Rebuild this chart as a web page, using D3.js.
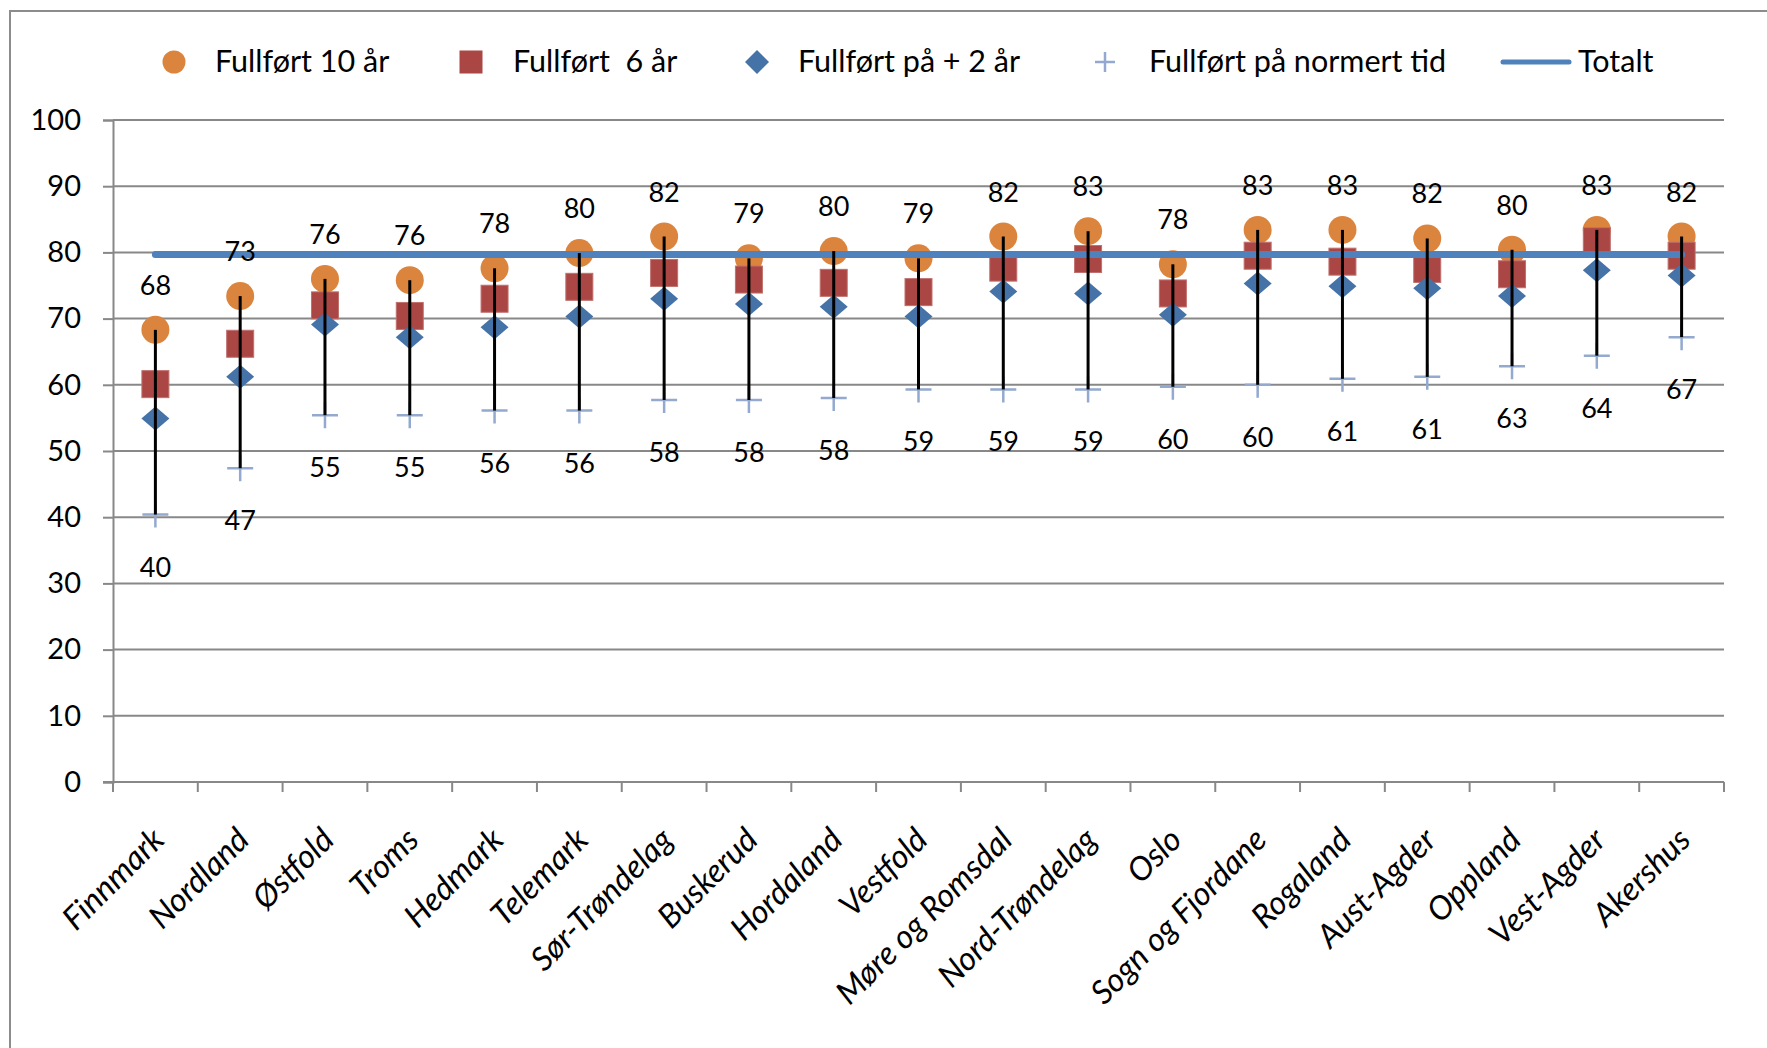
<!DOCTYPE html>
<html>
<head>
<meta charset="utf-8">
<script src="https://cdn.jsdelivr.net/npm/d3@7"></script>
<style>
  body { margin: 0; background: #fff; }
  text { font-family: Lato, "Open Sans", sans-serif; fill: #000; white-space: pre; }
</style>
</head>
<body>
<div id="chart"></div>
<script>
// Fylker, sortert etter andel fullført på normert tid
const fylker = ['Finnmark', 'Nordland', 'Østfold', 'Troms', 'Hedmark', 'Telemark',
    'Sør-Trøndelag', 'Buskerud', 'Hordaland', 'Vestfold', 'Møre og Romsdal',
    'Nord-Trøndelag', 'Oslo', 'Sogn og Fjordane', 'Rogaland', 'Aust-Agder',
    'Oppland', 'Vest-Agder', 'Akershus']

const fullfort10 = [68.3, 73.4, 76.0, 75.8, 77.6, 79.9, 82.4, 79.1, 80.2, 79.1,
    82.4, 83.2, 78.2, 83.4, 83.4, 82.1, 80.4, 83.4, 82.4]
const fullfort6 = [60.1, 66.2, 72.0, 70.4, 73.0, 74.8, 76.9, 75.9, 75.4, 74.0,
    77.7, 79.0, 73.8, 79.5, 78.6, 77.5, 76.7, 81.7, 79.5]
const fullfortPluss2 = [54.9, 61.2, 69.1, 67.2, 68.7, 70.3, 73.0, 72.2, 71.8, 70.3,
    74.1, 73.8, 70.6, 75.3, 74.9, 74.6, 73.4, 77.3, 76.5]
const fullfortNormert = [40.4, 47.4, 55.4, 55.4, 56.1, 56.1, 57.7, 57.7, 58.0, 59.3,
    59.3, 59.3, 59.7, 60.0, 60.9, 61.2, 62.8, 64.4, 67.2]
const totalt = 79.7

const yTicks = [0, 10, 20, 30, 40, 50, 60, 70, 80, 90, 100]

const legendLabels = ['Fullført 10 år', 'Fullført  6 år', 'Fullført på + 2 år',
    'Fullført på normert tid', 'Totalt']

const W = 1767
const H = 1048

const ORANGE = '#DB843D'
const RED = '#AA4643'
const BLUE = '#4572A7'
const LIGHT_BLUE = '#93A9CF'
const LINE_BLUE = '#4F81BD'
const GRID = '#888888'

const rows = fylker.map((f, i) => ({
    fylke: f,
    ti: fullfort10[i],
    seks: fullfort6[i],
    pluss2: fullfortPluss2[i],
    normert: fullfortNormert[i]
}))

const svg = d3.select('#chart')
    .append('svg')
    .attr('width', W)
    .attr('height', H)

// chart frame
svg.append('rect')
    .attr('x', 10).attr('y', 11)
    .attr('width', W + 50).attr('height', H + 50)
    .attr('fill', '#fff')
    .attr('stroke', '#8c8c8c')
    .attr('stroke-width', 2)

const x = d3.scaleBand().domain(fylker).range([113, 1724])
const y = d3.scaleLinear().domain([0, 100]).range([782, 120])
const cx = d => x(d.fylke) + x.bandwidth() / 2

// gridlines
svg.append('g')
    .selectAll('line')
    .data(yTicks.filter(t => t > 0))
    .join('line')
    .attr('x1', 113).attr('x2', 1724)
    .attr('y1', d => y(d)).attr('y2', d => y(d))
    .attr('stroke', GRID)
    .attr('stroke-width', 2)

// y axis
const yAxis = svg.append('g')
    .attr('transform', 'translate(113,0)')
    .call(d3.axisLeft(y).tickValues(yTicks).tickSize(10).tickPadding(22))
yAxis.select('.domain').attr('stroke', GRID).attr('stroke-width', 2)
yAxis.selectAll('.tick line').attr('stroke', GRID).attr('stroke-width', 2)
yAxis.selectAll('.tick text')
    .attr('font-size', 29)
    .attr('font-family', 'Lato, sans-serif')
    .attr('fill', '#000')

// x axis: baseline plus ticks between categories
svg.append('line')
    .attr('x1', 103).attr('x2', 1724)
    .attr('y1', y(0)).attr('y2', y(0))
    .attr('stroke', GRID).attr('stroke-width', 2)

const bounds = fylker.map(f => x(f)).concat([x.range()[1]])
svg.append('g')
    .selectAll('line')
    .data(bounds)
    .join('line')
    .attr('x1', d => d).attr('x2', d => d)
    .attr('y1', y(0)).attr('y2', y(0) + 10)
    .attr('stroke', GRID).attr('stroke-width', 2)

svg.append('g')
    .selectAll('text')
    .data(rows)
    .join('text')
    .attr('transform', d => `translate(${cx(d) + 5},${y(0) + 54}) rotate(-45)`)
    .attr('text-anchor', 'end')
    .attr('dominant-baseline', 'middle')
    .attr('font-size', 32.5)
    .attr('font-style', 'italic')
    .text(d => d.fylke)

// markers
const marks = svg.append('g')

marks.selectAll('.pluss')
    .data(rows)
    .join('path')
    .attr('class', 'pluss')
    .attr('d', d => `M${cx(d) - 13},${y(d.normert)}h26M${cx(d)},${y(d.normert) - 13}v26`)
    .attr('stroke', LIGHT_BLUE)
    .attr('stroke-width', 2.5)
    .attr('fill', 'none')

marks.selectAll('.circle')
    .data(rows)
    .join('circle')
    .attr('class', 'circle')
    .attr('cx', cx)
    .attr('cy', d => y(d.ti))
    .attr('r', 14)
    .attr('fill', ORANGE)

marks.selectAll('.square')
    .data(rows)
    .join('rect')
    .attr('class', 'square')
    .attr('x', d => cx(d) - 13.5)
    .attr('y', d => y(d.seks) - 13.5)
    .attr('width', 27).attr('height', 27)
    .attr('fill', RED)
    .attr('stroke', '#c0706d')
    .attr('stroke-width', 1)

marks.selectAll('.diamond')
    .data(rows)
    .join('path')
    .attr('class', 'diamond')
    .attr('d', d => {
        const px = cx(d), py = y(d.pluss2)
        return `M${px},${py - 12}L${px + 14},${py}L${px},${py + 12}L${px - 14},${py}Z`
    })
    .attr('fill', BLUE)

// totalt line
svg.append('path')
    .attr('d', d3.line()(rows.map(d => [cx(d), y(totalt)])))
    .attr('stroke', LINE_BLUE)
    .attr('stroke-width', 7)
    .attr('stroke-linecap', 'round')
    .attr('fill', 'none')

// high-low lines
svg.append('g')
    .selectAll('line')
    .data(rows)
    .join('line')
    .attr('x1', cx).attr('x2', cx)
    .attr('y1', d => y(d.ti)).attr('y2', d => y(d.normert))
    .attr('stroke', '#000')
    .attr('stroke-width', 3)

// data labels
const fmt = d3.format('.0f')
svg.append('g')
    .selectAll('text')
    .data(rows)
    .join('text')
    .attr('x', cx)
    .attr('y', d => y(d.ti) - 35)
    .attr('text-anchor', 'middle')
    .attr('font-size', 27)
    .text(d => fmt(d.ti))

svg.append('g')
    .selectAll('text')
    .data(rows)
    .join('text')
    .attr('x', cx)
    .attr('y', d => y(d.normert) + 62)
    .attr('text-anchor', 'middle')
    .attr('font-size', 27)
    .text(d => fmt(d.normert))

// legend
const legend = svg.append('g').attr('transform', 'translate(0,62)')
const legendX = [174, 471, 757, 1105, 1536]
const textX = [215, 513, 798, 1149, 1578]

legend.append('circle').attr('cx', legendX[0]).attr('cy', 0).attr('r', 11.5).attr('fill', ORANGE)
legend.append('rect').attr('x', legendX[1] - 11.5).attr('y', -11.5)
    .attr('width', 23).attr('height', 23).attr('fill', RED)
legend.append('path')
    .attr('d', `M${legendX[2]},-12L${legendX[2] + 12},0L${legendX[2]},12L${legendX[2] - 12},0Z`)
    .attr('fill', BLUE)
legend.append('path')
    .attr('d', `M${legendX[3] - 10},0h20M${legendX[3]},-10v20`)
    .attr('stroke', LIGHT_BLUE).attr('stroke-width', 2.5)
legend.append('line')
    .attr('x1', 1503).attr('x2', 1569).attr('y1', 0).attr('y2', 0)
    .attr('stroke', LINE_BLUE).attr('stroke-width', 5).attr('stroke-linecap', 'round')

legend.selectAll('text')
    .data(legendLabels)
    .join('text')
    .attr('x', (d, i) => textX[i])
    .attr('y', 10)
    .attr('font-size', 30.5)
    .text(d => d)
</script>
</body>
</html>
